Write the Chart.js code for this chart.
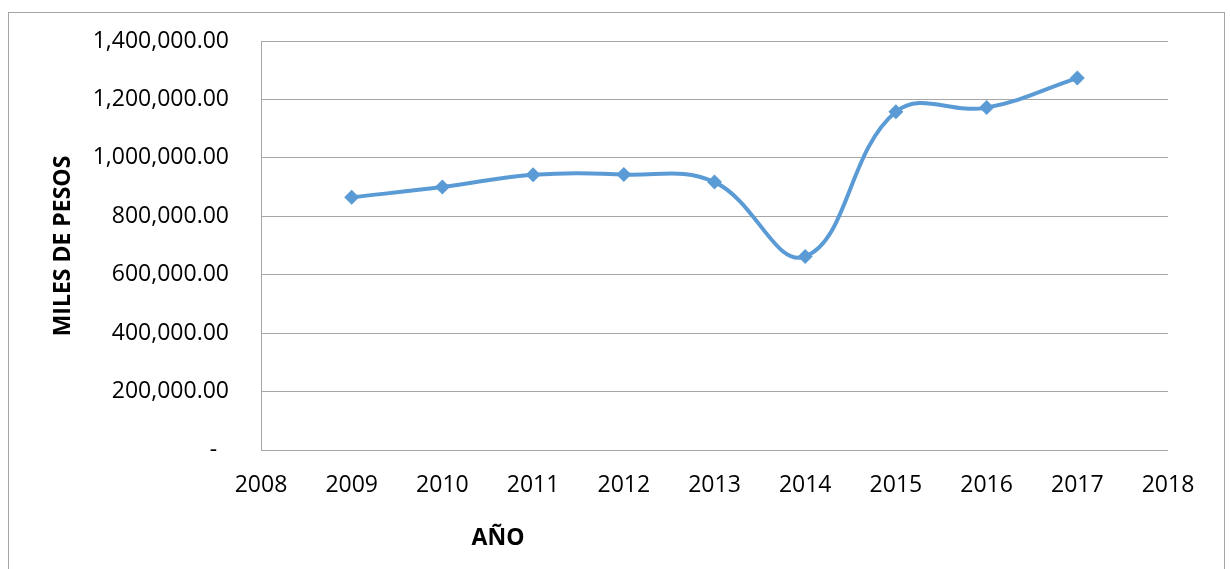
<!DOCTYPE html>
<html>
<head>
<meta charset="utf-8">
<title>Miles de pesos por año</title>
<script src="https://cdn.jsdelivr.net/npm/chart.js@4/dist/chart.umd.min.js"></script>
<style>
  html, body { margin: 0; padding: 0; background: #fff; }
  canvas { display: block; }
</style>
</head>
<body>
<canvas id="myChart" width="1230" height="569"></canvas>
<script>
// values
const years = [2009, 2010, 2011, 2012, 2013, 2014, 2015, 2016, 2017];
const pesos = [865000, 900000, 942000, 943000, 917000, 662000, 1158000, 1172000, 1273000];
const yearMin = 2008;
const yearMax = 2018;
const pesosMax = 1400000;
const pesosStep = 200000;
const yTitle = "MILES DE PESOS";
const xTitle = "AÑO";

const gridGray = "#a6a6a6";
const lineBlue = "#5b9bd5";

Chart.defaults.font.family = '"Open Sans", sans-serif';
Chart.defaults.font.size = 23;
Chart.defaults.color = "#000";

// outer frame and the two axis titles, placed like in the sheet
const frameAndTitles = {
    id: "frameAndTitles",
    beforeDraw(chart) {
        const ctx = chart.ctx;
        ctx.save();
        ctx.fillStyle = "#fff";
        ctx.fillRect(0, 0, chart.width, chart.height);
        ctx.strokeStyle = "#a6a6a6";
        ctx.lineWidth = 1;
        ctx.strokeRect(8.5, 12.5, 1216, 600);
        ctx.restore();
    },
    afterDraw(chart) {
        const ctx = chart.ctx;
        ctx.save();
        ctx.fillStyle = "#000";
        ctx.font = 'bold 23px "Open Sans", sans-serif';
        ctx.textAlign = "center";
        ctx.textBaseline = "middle";
        ctx.fillText(xTitle, 498, 538);
        ctx.translate(63, 246);
        ctx.rotate(-Math.PI / 2);
        ctx.fillText(yTitle, 0, 0);
        ctx.restore();
    }
};

new Chart(document.getElementById("myChart").getContext("2d"), {
    type: "line",
    data: {
        datasets: [{
            label: yTitle,
            data: years.map((yr, i) => ({ x: yr, y: pesos[i] })),
            borderColor: lineBlue,
            backgroundColor: lineBlue,
            borderWidth: 4,
            tension: 0.4,
            pointStyle: "rectRot",
            pointRadius: 7.5,
            pointHoverRadius: 7.5,
            pointBorderWidth: 0
        }]
    },
    options: {
        responsive: false,
        animation: false,
        layout: { padding: { left: 0, top: 41, right: 62, bottom: 0 } },
        plugins: {
            legend: { display: false },
            tooltip: { enabled: false }
        },
        scales: {
            x: {
                type: "linear",
                min: yearMin,
                max: yearMax,
                grid: { display: false, drawTicks: false },
                border: { display: false },
                ticks: {
                    stepSize: 1,
                    padding: 22,
                    maxRotation: 0,
                    callback: v => String(v)
                },
                afterFit: scale => { scale.height = 119; }
            },
            y: {
                min: 0,
                max: pesosMax,
                grid: { color: gridGray, lineWidth: 1, drawTicks: false },
                border: { display: true, color: gridGray, width: 1 },
                ticks: {
                    stepSize: pesosStep,
                    padding: 32,
                    callback: v => v === 0 ? "-  " :
                        v.toLocaleString("en-US", { minimumFractionDigits: 2, maximumFractionDigits: 2 })
                },
                afterFit: scale => {
                    scale.width = 261;
                    // tick padding would otherwise push the plot top down
                    scale.paddingTop = 14;
                    scale.paddingBottom = 14;
                }
            }
        }
    },
    plugins: [frameAndTitles]
});
</script>
</body>
</html>
